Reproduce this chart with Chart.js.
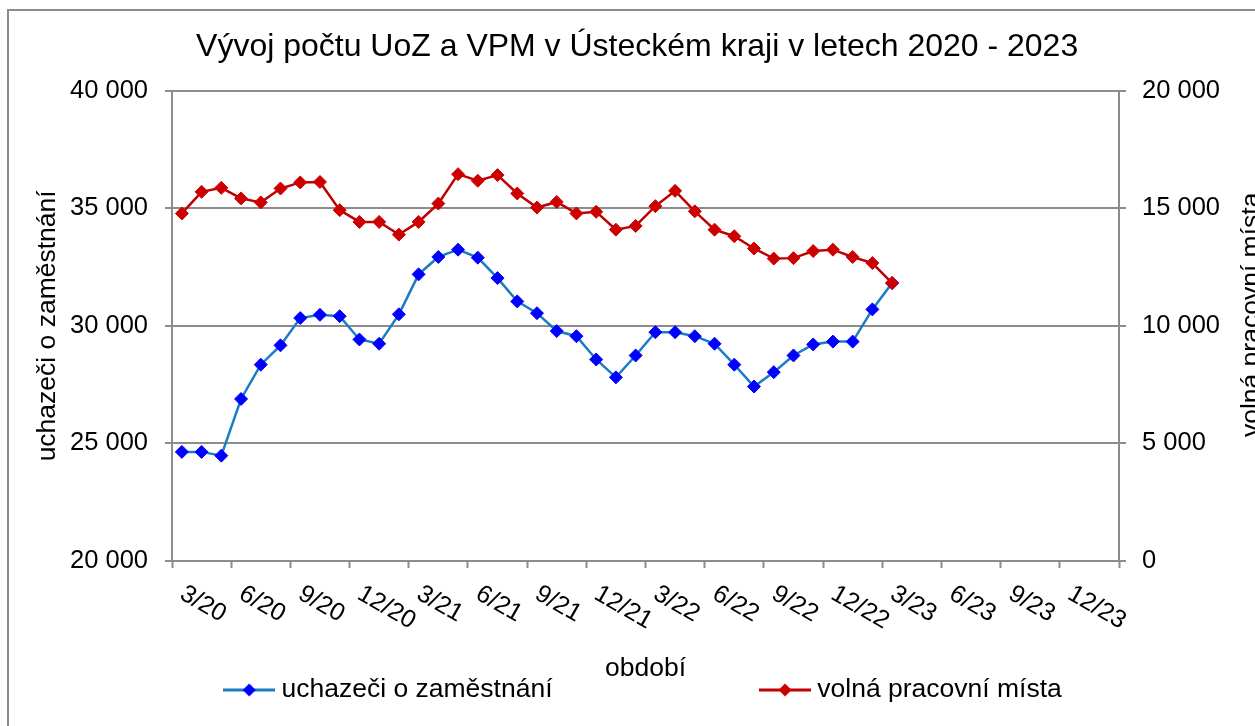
<!DOCTYPE html>
<html>
<head>
<meta charset="utf-8">
<title>Vývoj počtu UoZ a VPM v Ústeckém kraji</title>
<script src="https://cdn.jsdelivr.net/npm/chart.js@4.4.1/dist/chart.umd.min.js"></script>
<style>
  html, body { margin: 0; padding: 0; background: #fff; overflow: hidden; }
  #frame { position: absolute; left: 7px; top: 9px; width: 1400px; height: 800px; border: 2px solid #8c8c8c; }
  #wrap { position: absolute; left: 0; top: 0; width: 1255px; height: 726px; }
</style>
</head>
<body>
<div id="frame"></div>
<div id="wrap"><canvas id="chart" width="1255" height="726"></canvas></div>
<script>
// months on the category axis (3/2020 .. 2/2024), label shown every 3rd
var months = [
  '3/20', '4/20', '5/20', '6/20', '7/20', '8/20', '9/20', '10/20', '11/20', '12/20', '1/21', '2/21',
  '3/21', '4/21', '5/21', '6/21', '7/21', '8/21', '9/21', '10/21', '11/21', '12/21', '1/22', '2/22',
  '3/22', '4/22', '5/22', '6/22', '7/22', '8/22', '9/22', '10/22', '11/22', '12/22', '1/23', '2/23',
  '3/23', '4/23', '5/23', '6/23', '7/23', '8/23', '9/23', '10/23', '11/23', '12/23', '1/24', '2/24'
];

// uchazeči o zaměstnání (left axis)
var uoz = [
  24640, 24640, 24480, 26890, 28350, 29170, 30330, 30470, 30410, 29420, 29240, 30490,
  32190, 32930, 33240, 32900, 32030, 31040, 30540, 29780, 29560, 28570, 27810, 28740,
  29730, 29730, 29560, 29240, 28350, 27420, 28030, 28740, 29210, 29330, 29330, 30700,
  31820
];

// volná pracovní místa (right axis)
var vpm = [
  14780, 15700, 15870, 15420, 15250, 15840, 16100, 16120, 14920, 14420, 14420, 13880,
  14420, 15200, 16450, 16170, 16410, 15630, 15030, 15270, 14780, 14850, 14090, 14250,
  15090, 15740, 14870, 14090, 13810, 13290, 12860, 12880, 13180, 13240, 12930, 12670,
  11820
];

var seriesNames = ['uchazeči o zaměstnání', 'volná pracovní místa'];
var leftRange = [20000, 40000];
var rightRange = [0, 20000];
var tickStep = 5000;

var FONT = "'Liberation Sans', Arial, sans-serif";
var GRID = '#8c8c8c';
var BLUE_LINE = '#1a7cc3';
var BLUE_MARK = '#0000ff';
var RED_LINE = '#c00000';
var RED_MARK = '#cc0000';

// Excel style slanted labels: rotated clockwise, text starting at the tick
class SlantCategoryScale extends Chart.CategoryScale {
  _getXAxisLabelAlignment() { return 'left'; }
}
SlantCategoryScale.id = 'slantCategory';
SlantCategoryScale.defaults = Chart.CategoryScale.defaults;
Chart.register(SlantCategoryScale);

function fmt(v) {
  return String(v).replace(/\B(?=(\d{3})+(?!\d))/g, ' ');
}

// legend icon: line with diamond marker
function legendIcon(lineColor, markColor) {
  var c = document.createElement('canvas');
  c.width = 52; c.height = 16;
  var g = c.getContext('2d');
  g.strokeStyle = lineColor; g.lineWidth = 3;
  g.beginPath(); g.moveTo(0, 8); g.lineTo(52, 8); g.stroke();
  g.fillStyle = markColor;
  g.beginPath(); g.moveTo(26, 1.5); g.lineTo(32.5, 8); g.lineTo(26, 14.5); g.lineTo(19.5, 8); g.closePath(); g.fill();
  return c;
}

// right axis title reads bottom-to-top like the left one
var rightTitle = {
  id: 'rightTitle',
  afterDraw: function(chart) {
    var s = chart.scales.y2;
    var c = chart.ctx;
    c.save();
    c.translate(s.right + 4, (s.top + s.bottom) / 2 - 11);
    c.rotate(-Math.PI / 2);
    c.font = '26.5px ' + FONT;
    c.fillStyle = '#000';
    c.textAlign = 'center';
    c.textBaseline = 'alphabetic';
    c.fillText(seriesNames[1], 0, 0);
    c.restore();
  }
};

var ctx = document.getElementById('chart').getContext('2d');
var chart = new Chart(ctx, {
  type: 'line',
  data: {
    labels: months,
    datasets: [
      {
        label: seriesNames[0],
        data: uoz,
        yAxisID: 'y',
        borderColor: BLUE_LINE,
        backgroundColor: BLUE_MARK,
        borderWidth: 2.5,
        pointStyle: 'rectRot',
        pointRadius: 6.5,
        pointBackgroundColor: BLUE_MARK,
        pointBorderColor: BLUE_MARK,
        pointBorderWidth: 1,
        order: 1
      },
      {
        label: seriesNames[1],
        data: vpm,
        yAxisID: 'y2',
        borderColor: RED_LINE,
        backgroundColor: RED_MARK,
        borderWidth: 2.5,
        pointStyle: 'rectRot',
        pointRadius: 6.5,
        pointBackgroundColor: RED_MARK,
        pointBorderColor: RED_MARK,
        pointBorderWidth: 1,
        order: 0
      }
    ]
  },
  options: {
    responsive: false,
    animation: false,
    events: [],
    layout: { padding: { left: 37, right: 0, top: 0, bottom: 12.75 } },
    scales: {
      x: {
        type: 'slantCategory',
        offset: true,
        grid: {
          offset: true,
          drawOnChartArea: false,
          drawTicks: true,
          tickLength: 7,
          color: GRID,
          tickColor: GRID,
          tickWidth: function(c) { return (c.index === undefined || c.index % 3 === 0) ? 2 : 0; }
        },
        border: { display: true, color: GRID, width: 2 },
        ticks: {
          autoSkip: false,
          minRotation: -30,
          maxRotation: -30,
          padding: 11,
          color: '#000',
          font: { family: FONT, size: 25 },
          callback: function(v, i) { return i % 3 === 0 ? months[i] : ''; }
        },
        title: {
          display: true,
          text: 'období',
          color: '#000',
          font: { family: FONT, size: 26.5 },
          padding: { top: 0, bottom: -8 }
        },
        afterFit: function(s) { s.height = 115.75; }
      },
      y: {
        position: 'left',
        min: leftRange[0],
        max: leftRange[1],
        grid: { color: GRID, lineWidth: 2, tickLength: 7, tickColor: GRID },
        border: { color: GRID, width: 2 },
        ticks: {
          stepSize: tickStep,
          padding: 17,
          color: '#000',
          font: { family: FONT, size: 25.5 },
          callback: function(v) { return fmt(v); }
        },
        title: {
          display: true,
          text: seriesNames[0],
          color: '#000',
          font: { family: FONT, size: 26.5 },
          padding: { top: -5, bottom: 0 }
        },
        afterFit: function(s) { s.width = 135; }
      },
      y2: {
        position: 'right',
        min: rightRange[0],
        max: rightRange[1],
        grid: { drawOnChartArea: false, color: GRID, lineWidth: 2, tickLength: 7, tickColor: GRID },
        border: { color: GRID, width: 2 },
        ticks: {
          stepSize: tickStep,
          padding: 16,
          color: '#000',
          font: { family: FONT, size: 25.5 },
          callback: function(v) { return fmt(v); }
        },
        afterFit: function(s) { s.width = 136; }
      }
    },
    plugins: {
      title: {
        display: true,
        text: 'Vývoj počtu UoZ a VPM v Ústeckém kraji v letech 2020 - 2023\u00a0\u00a0',
        color: '#000',
        font: { family: FONT, size: 32, weight: 'normal' },
        padding: { top: 27.8, bottom: 24.5 }
      },
      legend: {
        position: 'bottom',
        labels: {
          usePointStyle: true,
          pointStyleWidth: 38,
          boxWidth: 38,
          padding: 0,
          color: '#000',
          font: { family: FONT, size: 26.5 },
          generateLabels: function(ch) {
            return ch.data.datasets.map(function(ds, i) {
              return {
                text: ds.label + (i === 0 ? '\u00a0'.repeat(29) : ''),
                pointStyle: legendIcon(ds.borderColor, ds.pointBackgroundColor),
                fillStyle: ds.pointBackgroundColor,
                strokeStyle: ds.borderColor,
                lineWidth: 0,
                hidden: false,
                datasetIndex: i,
                fontColor: '#000'
              };
            });
          }
        }
      },
      tooltip: { enabled: false }
    }
  },
  plugins: [rightTitle]
});
</script>
</body>
</html>
